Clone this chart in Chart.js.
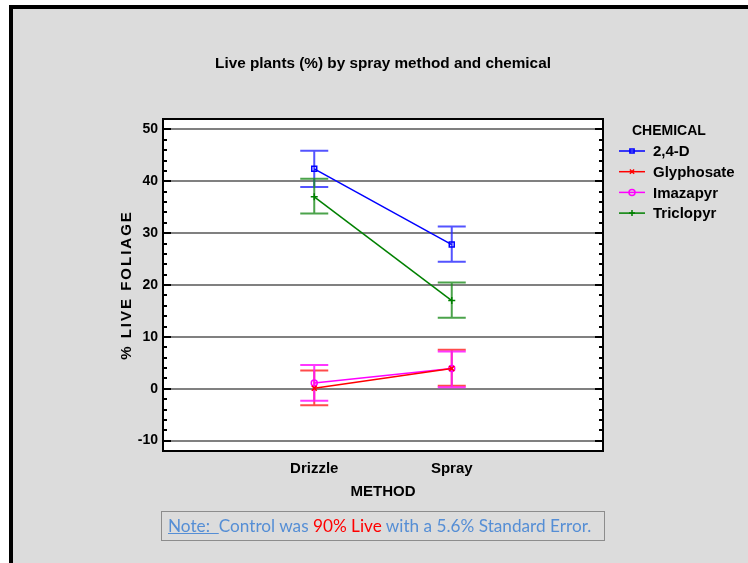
<!DOCTYPE html>
<html>
<head>
<meta charset="utf-8">
<script src="https://cdn.jsdelivr.net/npm/chart.js@4.4.1/dist/chart.umd.min.js"></script>
<style>
  html, body { margin: 0; padding: 0; background: #ffffff; }
  body { width: 748px; height: 563px; position: relative; overflow: hidden; }
  #frame {
    position: absolute; left: 9px; top: 5px; width: 800px; height: 600px;
    border-left: 4px solid #000; border-top: 4px solid #000;
    background: #dcdcdc;
  }
  #chart { position: absolute; left: 0; top: 0; }
  #note {
    position: absolute; left: 161px; top: 511px; height: 28px;
    border: 1px solid #8c8c8c;
    font-family: Lato, "Open Sans", sans-serif; font-size: 17.2px; line-height: 28px;
    color: #558ed5; white-space: nowrap; box-sizing: content-box;
    padding-left: 6px; width: 436px;
  }
  #note u { text-decoration-color: #558ed5; }
  #note .red { color: #ff0000; }
</style>
</head>
<body>
<div id="frame"></div>
<canvas id="chart" width="748" height="563"></canvas>
<div id="note"><u>Note:&nbsp; </u>Control was <span class="red">90% Live</span> with a 5.6% Standard Error.</div>

<script>
// --- Dados ---
const methods = ['Drizzle', 'Spray'];
const chemicals = ['2,4-D', 'Glyphosate', 'Imazapyr', 'Triclopyr'];

const mean24D = [42.4, 27.8];
const low24D = [38.9, 24.5];
const high24D = [45.9, 31.3];

const meanGly = [0.1, 3.9];
const lowGly = [-3.2, 0.6];
const highGly = [3.5, 7.5];

const meanIma = [1.1, 3.9];
const lowIma = [-2.3, 0.3];
const highIma = [4.6, 7.2];

const meanTri = [37.0, 17.0];
const lowTri = [33.8, 13.7];
const highTri = [40.5, 20.5];

const yTicks = [-10, 0, 10, 20, 30, 40, 50];

const FONT = '"Liberation Sans", Arial, sans-serif';

const series = [
    { label: chemicals[0], mean: mean24D, low: low24D, high: high24D, color: '#0000ff', bar: 'rgba(40,40,255,0.8)', style: 'rect' },
    { label: chemicals[1], mean: meanGly, low: lowGly, high: highGly, color: '#ff0000', bar: 'rgba(255,30,30,0.8)', style: 'crossRot' },
    { label: chemicals[2], mean: meanIma, low: lowIma, high: highIma, color: '#ff00ff', bar: 'rgba(255,20,255,0.85)', style: 'circle' },
    { label: chemicals[3], mean: meanTri, low: lowTri, high: highTri, color: '#008000', bar: 'rgba(30,140,30,0.8)', style: 'cross' }
];

// --- Plugin: fundo, barras de erro, moldura, ticks menores, títulos e legenda ---
const extras = {
    id: 'extras',
    beforeDraw(chart) {
        const { ctx, chartArea: a } = chart;
        ctx.save();
        ctx.fillStyle = '#ffffff';
        ctx.fillRect(a.left, a.top, a.right - a.left, a.bottom - a.top);
        ctx.restore();
    },
    beforeDatasetsDraw(chart) {
        const { ctx, scales } = chart;
        ctx.save();
        ctx.lineWidth = 2;
        series.forEach(s => {
            ctx.strokeStyle = s.bar;
            methods.forEach((m, i) => {
                const x = scales.x.getPixelForValue(i + 1);
                const yl = scales.y.getPixelForValue(s.low[i]);
                const yh = scales.y.getPixelForValue(s.high[i]);
                ctx.beginPath();
                ctx.moveTo(x, yl); ctx.lineTo(x, yh);
                ctx.moveTo(x - 14, yl); ctx.lineTo(x + 14, yl);
                ctx.moveTo(x - 14, yh); ctx.lineTo(x + 14, yh);
                ctx.stroke();
            });
        });
        ctx.restore();
    },
    afterDraw(chart) {
        const { ctx, chartArea: a, scales } = chart;
        ctx.save();

        // ticks menores (para dentro), dos dois lados
        ctx.strokeStyle = '#000';
        ctx.lineWidth = 2;
        for (let v = -10; v <= 52; v += 2) {
            const y = Math.round(scales.y.getPixelForValue(v));
            const len = v % 10 === 0 ? 8 : 4;
            ctx.beginPath();
            ctx.moveTo(a.left, y); ctx.lineTo(a.left + len, y);
            ctx.moveTo(a.right, y); ctx.lineTo(a.right - len, y);
            ctx.stroke();
        }

        // moldura do gráfico
        ctx.strokeRect(a.left, a.top, a.right - a.left, a.bottom - a.top);

        // título
        ctx.fillStyle = '#000';
        ctx.textAlign = 'center';
        ctx.textBaseline = 'middle';
        ctx.font = 'bold 15.3px ' + FONT;
        ctx.fillText('Live plants (%) by spray method and chemical', 383, 64);

        // título do eixo Y (com espaçamento entre letras)
        ctx.save();
        ctx.translate(127, 285);
        ctx.rotate(-Math.PI / 2);
        ctx.font = 'bold 15px ' + FONT;
        ctx.letterSpacing = '2px';
        ctx.fillText('% LIVE FOLIAGE', 0, 0);
        ctx.restore();

        // legenda
        ctx.textAlign = 'left';
        ctx.font = 'bold 14px ' + FONT;
        ctx.fillText('CHEMICAL', 632, 131);
        ctx.font = 'bold 15px ' + FONT;
        series.forEach((s, i) => {
            const y = 151 + i * 20.7;
            ctx.strokeStyle = s.color;
            ctx.lineWidth = 1.5;
            ctx.beginPath();
            ctx.moveTo(619, y); ctx.lineTo(645, y);
            ctx.stroke();
            ctx.fillStyle = 'rgba(0,0,0,0)';
            Chart.helpers.drawPoint(ctx, { pointStyle: s.style, radius: 3, borderWidth: 1.5 }, 632, y);
            ctx.fillStyle = '#000';
            ctx.fillText(s.label, 653, y + 1);
        });
        ctx.restore();
    }
};

new Chart(document.getElementById('chart'), {
    type: 'line',
    data: {
        datasets: series.map(s => ({
            label: s.label,
            data: s.mean.map((v, i) => ({ x: i + 1, y: v })),
            borderColor: s.color,
            backgroundColor: 'rgba(0,0,0,0)',
            borderWidth: 1.5,
            pointStyle: s.style,
            pointRadius: s.style === 'circle' ? 3 : 3.5,
            pointBorderWidth: 1.5,
            pointBorderColor: s.color,
            pointBackgroundColor: 'rgba(0,0,0,0)',
            tension: 0
        }))
    },
    options: {
        responsive: false,
        animation: false,
        layout: { padding: { left: 0, top: 119, right: 145, bottom: 0 } },
        plugins: { legend: { display: false }, tooltip: { enabled: false } },
        scales: {
            x: {
                type: 'linear',
                min: -0.1,
                max: 3.1,
                afterBuildTicks: scale => { scale.ticks = [{ value: 1 }, { value: 2 }]; },
                afterFit: scale => { scale.height = 112; },
                grid: { display: false, drawTicks: false },
                border: { display: false },
                ticks: {
                    padding: 9,
                    color: '#000',
                    font: { family: FONT, size: 15, weight: 'bold' },
                    callback: v => methods[v - 1]
                },
                title: {
                    display: true,
                    text: 'METHOD',
                    color: '#000',
                    font: { family: FONT, size: 15, weight: 'bold' },
                    padding: { top: 0, bottom: 62 }
                }
            },
            y: {
                min: -12,
                max: 52,
                afterBuildTicks: scale => { scale.ticks = yTicks.map(v => ({ value: v })); },
                afterFit: scale => { scale.width = 163; },
                grid: { color: '#808080', lineWidth: 2, drawTicks: false },
                border: { display: false },
                ticks: {
                    padding: 5,
                    color: '#000',
                    font: { family: FONT, size: 14, weight: 'bold' }
                }
            }
        }
    },
    plugins: [extras]
});
</script>
</body>
</html>
